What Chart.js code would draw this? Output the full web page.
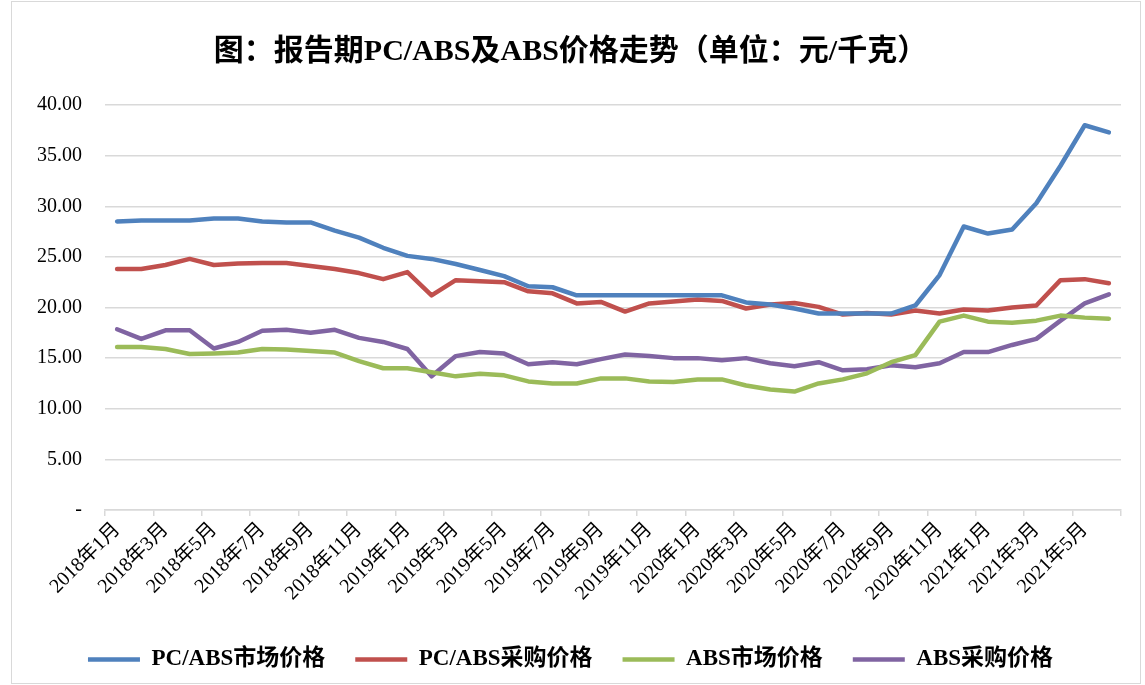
<!DOCTYPE html>
<html>
<head>
<meta charset="utf-8">
<script src="https://cdn.jsdelivr.net/npm/chart.js@4"></script>
<style>
  body { margin: 0; background: #fff; }
  #frame { position: absolute; left: 11px; top: 1px; width: 1128px; height: 681px; border: 1px solid #d9d9d9; }
  #chart { position: absolute; left: 0; top: 0; }
</style>
</head>
<body>
<div id="frame"></div>
<canvas id="chart" width="1145" height="685"></canvas>
<script>
// 月份（2018年1月 - 2021年6月）
const months = [
  '2018年1月', '2018年2月', '2018年3月', '2018年4月', '2018年5月', '2018年6月',
  '2018年7月', '2018年8月', '2018年9月', '2018年10月', '2018年11月', '2018年12月',
  '2019年1月', '2019年2月', '2019年3月', '2019年4月', '2019年5月', '2019年6月',
  '2019年7月', '2019年8月', '2019年9月', '2019年10月', '2019年11月', '2019年12月',
  '2020年1月', '2020年2月', '2020年3月', '2020年4月', '2020年5月', '2020年6月',
  '2020年7月', '2020年8月', '2020年9月', '2020年10月', '2020年11月', '2020年12月',
  '2021年1月', '2021年2月', '2021年3月', '2021年4月', '2021年5月', '2021年6月'
];

const pcabsMarket = [
  28.5, 28.6, 28.6, 28.6, 28.8, 28.8, 28.5, 28.4, 28.4, 27.6,
  26.9, 25.9, 25.1, 24.8, 24.3, 23.7, 23.1, 22.1, 22.0, 21.2,
  21.2, 21.2, 21.2, 21.2, 21.2, 21.2, 20.5, 20.3, 19.9, 19.4,
  19.4, 19.4, 19.4, 20.2, 23.2, 28.0, 27.3, 27.7, 30.3, 34.0,
  38.0, 37.3
];
const pcabsPurchase = [
  23.8, 23.8, 24.2, 24.8, 24.2, 24.35, 24.4, 24.4, 24.1, 23.8,
  23.4, 22.8, 23.5, 21.2, 22.7, 22.6, 22.5, 21.6, 21.4, 20.4,
  20.55, 19.6, 20.4, 20.6, 20.8, 20.65, 19.9, 20.3, 20.45, 20.06,
  19.3, 19.45, 19.3, 19.7, 19.4, 19.8, 19.7, 20.0, 20.2, 22.7,
  22.8, 22.4
];
const absMarket = [
  16.1, 16.1, 15.9, 15.4, 15.45, 15.55, 15.9, 15.85, 15.7, 15.55,
  14.7, 14.0, 14.0, 13.6, 13.2, 13.45, 13.3, 12.7, 12.5, 12.5,
  13.0, 13.0, 12.7, 12.65, 12.9, 12.9, 12.3, 11.9, 11.7, 12.5,
  12.9, 13.5, 14.6, 15.3, 18.6, 19.2, 18.6, 18.5, 18.7, 19.2,
  19.0, 18.9
];
const absPurchase = [
  17.85, 16.9, 17.75, 17.75, 15.95, 16.6, 17.7, 17.8, 17.5, 17.8,
  17.0, 16.6, 15.9, 13.2, 15.2, 15.6, 15.45, 14.4, 14.6, 14.4,
  14.9, 15.35, 15.2, 15.0, 15.0, 14.8, 15.0, 14.5, 14.2, 14.6,
  13.8, 13.9, 14.3, 14.1, 14.5, 15.6, 15.6, 16.3, 16.9, 18.7,
  20.4, 21.3
];

const seriesNames = ['PC/ABS市场价格', 'PC/ABS采购价格', 'ABS市场价格', 'ABS采购价格'];
const seriesColors = ['#4f81bd', '#c0504d', '#9bbb59', '#8064a2'];

const fontFamily = '"Liberation Serif", "Noto Sans CJK SC", serif';
const gridColor = '#d9d9d9';

function makeSet(i, data) {
  return {
    label: seriesNames[i],
    data: data,
    borderColor: seriesColors[i],
    backgroundColor: seriesColors[i],
    borderWidth: 4.5,
    borderJoinStyle: 'round',
    borderCapStyle: 'round',
    pointRadius: 0,
    tension: 0,
    fill: false
  };
}

const ctx = document.getElementById('chart').getContext('2d');
new Chart(ctx, {
  type: 'line',
  data: {
    labels: months,
    datasets: [
      makeSet(0, pcabsMarket),
      makeSet(1, pcabsPurchase),
      makeSet(2, absMarket),
      makeSet(3, absPurchase)
    ]
  },
  options: {
    responsive: false,
    animation: false,
    devicePixelRatio: 1,
    layout: { padding: { left: 20, right: 24, top: 0, bottom: 4 } },
    plugins: {
      title: {
        display: true,
        text: '图：报告期PC/ABS及ABS价格走势（单位：元/千克）',
        color: '#000',
        font: { family: fontFamily, size: 30, weight: 'bold' },
        padding: { top: 34, bottom: 35 }
      },
      legend: {
        position: 'bottom',
        labels: {
          usePointStyle: true,
          pointStyle: 'line',
          pointStyleWidth: 52,
          padding: 30,
          color: '#000',
          font: { family: fontFamily, size: 23, weight: 'bold' }
        }
      },
      tooltip: { enabled: false }
    },
    scales: {
      x: {
        offset: true,
        grid: {
          offset: true,
          drawOnChartArea: false,
          drawTicks: true,
          tickLength: 6,
          lineWidth: 1.5,
          color: c => (c.type !== 'tick' || c.index % 2 === 0) ? gridColor : 'rgba(0,0,0,0)'
        },
        border: { display: true, color: gridColor, width: 1.5 },
        ticks: {
          autoSkip: false,
          maxRotation: 45,
          minRotation: 45,
          padding: 2,
          color: '#000',
          font: { family: fontFamily, size: 20 },
          callback: (v, i) => i % 2 === 0 ? months[i] : ''
        },
        afterFit: s => { s.height = 108; }
      },
      y: {
        min: 0,
        max: 40,
        ticks: {
          stepSize: 5,
          padding: 23,
          color: '#000',
          font: { family: fontFamily, size: 20 },
          callback: v => v === 0 ? '-' : v.toFixed(2)
        },
        grid: { color: gridColor, lineWidth: 1.5, drawTicks: false },
        border: { display: false },
        afterFit: s => { s.width = 85; }
      }
    }
  }
});
</script>
</body>
</html>
